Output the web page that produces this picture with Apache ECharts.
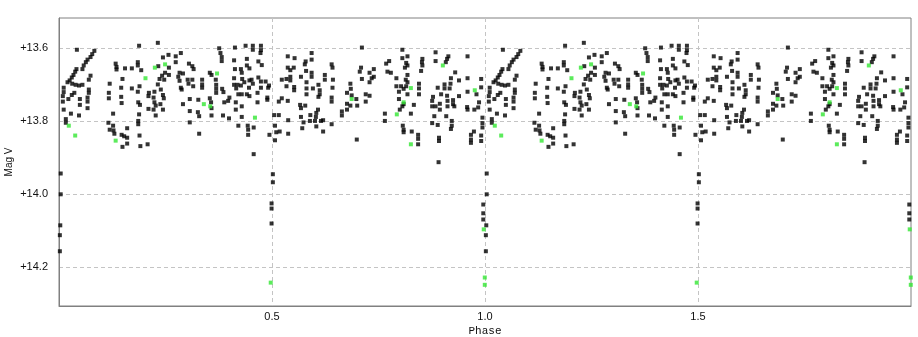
<!DOCTYPE html>
<html>
<head>
<meta charset="utf-8">
<script src="https://cdn.jsdelivr.net/npm/echarts@6/dist/echarts.min.js"></script>
<style>
  html, body { margin: 0; padding: 0; background: #fff; }
  #chart { width: 918px; height: 337px; }
</style>
</head>
<body>
<div id="chart"></div>
<script>
// one cycle of the folded light curve: [phase, mag V]; the plot repeats it over phase 1..2
const blackPts = [
  [0.042,13.605],[0.083,13.608],[0.078,13.617],[0.074,13.625],[0.067,13.632],[0.063,13.639],[0.058,13.648],[0.055,13.658],
  [0.041,13.658],[0.038,13.665],[0.034,13.674],[0.030,13.681],[0.025,13.689],[0.020,13.694],[0.031,13.698],[0.039,13.701],
  [0.047,13.703],[0.055,13.701],[0.070,13.687],[0.074,13.676],[0.011,13.709],[0.011,13.721],[0.009,13.732],[0.009,13.747],
  [0.022,13.740],[0.030,13.729],[0.036,13.723],[0.049,13.740],[0.049,13.756],[0.070,13.714],[0.070,13.723],[0.067,13.736],
  [0.067,13.747],[0.067,13.765],[0.011,13.769],[0.028,13.780],[0.047,13.785],[0.016,13.795],[0.016,13.805],[0.133,13.643],
  [0.135,13.652],[0.135,13.659],[0.155,13.656],[0.149,13.685],[0.119,13.698],[0.146,13.709],[0.117,13.723],[0.117,13.738],
  [0.146,13.734],[0.147,13.751],[0.127,13.780],[0.116,13.805],[0.127,13.813],[0.128,13.826],[0.119,13.824],[0.130,13.835],
  [0.147,13.838],[0.153,13.842],[0.160,13.846],[0.160,13.862],[0.149,13.871],[0.160,13.820],
  [0.232,13.586],[0.188,13.594],[0.244,13.626],[0.257,13.619],[0.274,13.623],[0.286,13.614],[0.274,13.639],[0.185,13.639],
  [0.185,13.648],[0.171,13.656],[0.193,13.661],[0.233,13.650],[0.258,13.654],[0.249,13.668],[0.242,13.676],[0.236,13.685],
  [0.247,13.687],[0.258,13.674],[0.305,13.643],[0.313,13.650],[0.316,13.658],[0.283,13.668],[0.280,13.679],[0.283,13.690],
  [0.291,13.670],[0.302,13.687],[0.313,13.687],[0.304,13.698],[0.315,13.705],[0.232,13.700],[0.189,13.705],[0.171,13.711],
  [0.185,13.720],[0.211,13.723],[0.224,13.720],[0.239,13.714],[0.244,13.729],[0.246,13.738],[0.210,13.732],[0.222,13.736],
  [0.286,13.709],[0.288,13.714],[0.186,13.749],[0.190,13.756],[0.224,13.749],[0.227,13.758],[0.238,13.754],[0.210,13.767],
  [0.222,13.769],[0.227,13.785],[0.244,13.769],[0.188,13.782],[0.291,13.754],[0.307,13.740],[0.327,13.742],[0.307,13.773],
  [0.326,13.776],[0.329,13.787],[0.307,13.804],[0.186,13.800],[0.186,13.809],[0.189,13.840],[0.191,13.869],[0.208,13.864],
  [0.329,13.835],
  [0.413,13.599],[0.438,13.594],[0.455,13.594],[0.474,13.594],[0.376,13.601],[0.455,13.605],[0.474,13.606],[0.473,13.614],
  [0.379,13.614],[0.382,13.625],[0.382,13.636],[0.411,13.634],[0.441,13.630],[0.441,13.648],[0.447,13.656],[0.468,13.637],
  [0.476,13.647],[0.413,13.658],[0.427,13.658],[0.429,13.668],[0.354,13.668],[0.358,13.674],[0.336,13.687],[0.336,13.700],
  [0.336,13.709],[0.368,13.687],[0.369,13.701],[0.369,13.712],[0.369,13.723],[0.383,13.712],[0.386,13.721],[0.411,13.683],
  [0.411,13.701],[0.419,13.701],[0.416,13.711],[0.430,13.685],[0.435,13.694],[0.427,13.703],[0.447,13.689],[0.452,13.687],
  [0.455,13.698],[0.446,13.709],[0.468,13.681],[0.474,13.692],[0.485,13.692],[0.474,13.709],[0.491,13.709],[0.493,13.703],
  [0.421,13.727],[0.429,13.727],[0.441,13.727],[0.447,13.732],[0.466,13.723],[0.400,13.736],[0.397,13.745],[0.489,13.736],
  [0.489,13.742],[0.354,13.738],[0.357,13.749],[0.388,13.749],[0.415,13.749],[0.429,13.760],[0.415,13.769],[0.466,13.749],
  [0.358,13.765],[0.358,13.785],[0.385,13.785],[0.399,13.793],[0.429,13.789],[0.421,13.813],[0.443,13.813],[0.444,13.824],
  [0.457,13.818],[0.444,13.838],[0.494,13.838],[0.457,13.891],
  [0.593,13.614],[0.537,13.623],[0.553,13.628],[0.593,13.632],[0.579,13.637],[0.577,13.645],[0.640,13.645],[0.642,13.654],
  [0.537,13.654],[0.551,13.654],[0.543,13.661],[0.580,13.663],[0.593,13.668],[0.593,13.679],[0.568,13.679],[0.543,13.679],
  [0.534,13.685],[0.523,13.687],[0.543,13.689],[0.624,13.674],[0.624,13.687],[0.643,13.687],[0.581,13.694],[0.609,13.701],
  [0.534,13.705],[0.552,13.707],[0.552,13.716],[0.581,13.711],[0.596,13.711],[0.642,13.709],[0.612,13.716],[0.612,13.727],
  [0.581,13.727],[0.609,13.734],[0.523,13.738],[0.516,13.747],[0.537,13.745],[0.640,13.736],[0.640,13.747],[0.566,13.756],
  [0.578,13.758],[0.568,13.765],[0.608,13.769],[0.604,13.778],[0.590,13.784],[0.603,13.789],[0.568,13.789],[0.505,13.784],
  [0.516,13.784],[0.538,13.798],[0.664,13.774],[0.664,13.785],[0.589,13.800],[0.601,13.800],[0.615,13.800],[0.620,13.798],
  [0.574,13.804],[0.507,13.813],[0.640,13.809],[0.604,13.815],[0.571,13.820],[0.510,13.831],[0.518,13.829],[0.538,13.835],
  [0.620,13.829],[0.507,13.853],
  [0.711,13.599],[0.806,13.605],[0.806,13.628],[0.818,13.623],[0.815,13.641],[0.818,13.648],[0.812,13.654],[0.775,13.636],
  [0.768,13.643],[0.771,13.665],[0.779,13.668],[0.709,13.654],[0.706,13.665],[0.739,13.658],[0.729,13.668],[0.739,13.679],
  [0.734,13.683],[0.711,13.685],[0.729,13.694],[0.792,13.683],[0.818,13.674],[0.814,13.687],[0.818,13.694],[0.684,13.698],
  [0.792,13.705],[0.803,13.705],[0.815,13.705],[0.809,13.712],[0.685,13.712],[0.676,13.723],[0.687,13.730],[0.698,13.740],
  [0.720,13.727],[0.729,13.731],[0.720,13.747],[0.798,13.720],[0.818,13.727],[0.798,13.740],[0.676,13.753],[0.684,13.758],
  [0.700,13.758],[0.676,13.769],[0.809,13.754],[0.806,13.760],[0.800,13.769],[0.833,13.756],[0.765,13.780],[0.826,13.780],
  [0.765,13.800],[0.807,13.813],[0.809,13.824],[0.809,13.831],[0.828,13.829],[0.699,13.851],
  [0.884,13.612],[0.914,13.623],[0.911,13.630],[0.959,13.623],[0.853,13.630],[0.852,13.639],[0.853,13.648],[0.884,13.636],
  [0.908,13.639],[0.850,13.663],[0.930,13.667],[0.920,13.683],[0.939,13.689],[0.959,13.683],[0.991,13.685],[0.845,13.698],
  [0.845,13.711],[0.845,13.727],[0.889,13.709],[0.905,13.700],[0.919,13.698],[0.905,13.711],[0.917,13.711],[0.991,13.708],
  [0.897,13.727],[0.911,13.731],[0.939,13.732],[0.959,13.720],[0.980,13.727],[0.878,13.734],[0.876,13.745],[0.876,13.760],
  [0.884,13.760],[0.894,13.753],[0.894,13.769],[0.912,13.745],[0.912,13.760],[0.925,13.743],[0.925,13.754],[0.928,13.760],
  [0.986,13.749],[0.984,13.763],[0.958,13.762],[0.975,13.769],[0.959,13.769],[0.881,13.787],[0.909,13.787],[0.922,13.800],
  [0.922,13.813],[0.920,13.822],[0.876,13.806],[0.889,13.811],[0.994,13.791],[0.994,13.806],[0.994,13.818],[0.974,13.829],
  [0.967,13.838],[0.967,13.851],[0.967,13.860],[0.843,13.838],[0.843,13.849],[0.843,13.864],[0.892,13.846],[0.892,13.855],
  [0.891,13.913],[0.991,13.840],[0.991,13.855],
  // eclipses
  [0.004,13.944],[0.004,14.001],[0.003,14.086],[0.002,14.113],[0.002,14.157],
  [0.996,14.029],[0.996,14.053],[0.996,14.070],
  [0.502,13.946],[0.502,13.968],[0.499,14.026],[0.499,14.040],[0.499,14.081]
];

const greenPts = [
  [0.023,13.813],[0.038,13.840],[0.133,13.854],[0.225,13.654],[0.249,13.645],[0.203,13.683],
  [0.371,13.670],[0.340,13.754],[0.355,13.760],[0.460,13.791],[0.826,13.710],[0.809,13.749],
  [0.793,13.782],[0.687,13.740],[0.826,13.864],[0.901,13.648],[0.976,13.716],
  [0.997,14.097],[0.9995,14.229],[0.9995,14.249],[0.497,14.243]
];

const xTicks = [0.5, 1.0, 1.5];
const yTicks = [13.6, 13.8, 14.0, 14.2];

function twoCycles(pts) {
  const out = [];
  pts.forEach(([p, m]) => { out.push([p, m], [p + 1, m]); });
  return out;
}

const gridLine = { show: true, lineStyle: { color: '#c4c4c4', type: [4, 3], width: 1 } };
const labelStyle = { color: '#111', fontFamily: 'Liberation Sans, Arial, sans-serif', fontSize: 11 };

const chart = echarts.init(document.getElementById('chart'));
chart.setOption({
  animation: false,
  backgroundColor: '#fff',
  grid: {
    left: 59, right: 7, top: 18, bottom: 31,
    outerBoundsMode: 'none',
    show: true, borderColor: '#808080', borderWidth: 1,
  },
  xAxis: {
    type: 'value',
    min: 0,
    max: 2,
    name: 'Phase',
    nameLocation: 'middle',
    nameGap: 20,
    nameMoveOverlap: false,
    nameTextStyle: { color: '#111', fontFamily: 'Liberation Mono, monospace', fontSize: 11 },
    axisLine: { show: true, onZero: false, lineStyle: { color: '#808080' } },
    axisTick: { show: false, customValues: xTicks },
    axisLabel: { ...labelStyle, margin: 5, customValues: xTicks, formatter: v => v.toFixed(1) },
    splitLine: gridLine,
  },
  yAxis: {
    type: 'value',
    inverse: true,
    min: 13.518,
    max: 14.307,
    name: 'Mag V',
    nameLocation: 'middle',
    nameGap: 45,
    nameMoveOverlap: false,
    nameTextStyle: { color: '#111', fontFamily: 'Liberation Sans, Arial, sans-serif', fontSize: 10 },
    axisLine: { show: true, onZero: false, lineStyle: { color: '#808080' } },
    axisTick: { show: false, customValues: yTicks },
    axisLabel: { ...labelStyle, margin: 11, customValues: yTicks, formatter: v => '+' + v.toFixed(1) },
    splitLine: gridLine,
  },
  series: [{
    name: 'V',
    type: 'scatter',
    symbol: 'rect',
    symbolSize: 4,
    itemStyle: { color: '#000' },
    data: twoCycles(blackPts),
  }, {
    name: 'V (green)',
    type: 'scatter',
    symbol: 'rect',
    symbolSize: 4,
    itemStyle: { color: '#33e633' },
    data: twoCycles(greenPts),
  }],
});
</script>
</body>
</html>
